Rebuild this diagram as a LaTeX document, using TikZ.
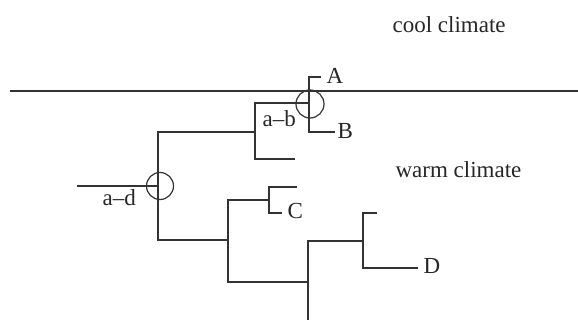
\documentclass[tikz,border=0pt]{standalone}
\usepackage{fontspec}
\setmainfont{Liberation Serif}
\begin{document}
\begin{tikzpicture}[x=1pt,y=-1pt,line width=1.2pt,
  lbl/.style={anchor=base west,inner sep=0pt,font=\fontsize{23}{27}\selectfont,text=black!85},
  br/.style={draw=black!80}]
\useasboundingbox (0,0) rectangle (578,320);
% climate boundary
\coordinate (bl) at (10,91);
\coordinate (brr) at (578,91);
\draw[br] (bl) -- (brr);
% tree coordinates
\coordinate (stem) at (77,186);
\coordinate (root) at (158,186);
\coordinate (ab) at (255,132);
\coordinate (abtop) at (309,103);
\coordinate (abbot) at (295,159);
\coordinate (Aend) at (321,77);
\coordinate (Bend) at (335,132);
\coordinate (cd) at (228,240);
\coordinate (cn) at (269,200);
\coordinate (ctop) at (297,187);
\coordinate (cbot) at (282,213);
\coordinate (dn) at (308,282);
\coordinate (dlow) at (308,320);
\coordinate (dd) at (363,241);
\coordinate (dtop) at (377,213);
\coordinate (dbot) at (418,268);
% branches
\draw[br] (stem) -- (root);
\draw[br] (root) |- (ab);
\draw[br] (root) |- (cd);
\draw[br] (ab) |- (abtop);
\draw[br] (ab) |- (abbot);
\draw[br] (abtop) |- (Aend);
\draw[br] (abtop) |- (Bend);
\draw[br] (cd) |- (cn);
\draw[br] (cd) |- (dn);
\draw[br] (cn) |- (ctop);
\draw[br] (cn) |- (cbot);
\draw[br] (dn) -- (dlow);
\draw[br] (dn) |- (dd);
\draw[br] (dd) |- (dtop);
\draw[br] (dd) |- (dbot);
% circles
\node[circle,draw=black!80,minimum size=28pt,inner sep=0pt] (c1) at (310,104) {};
\node[circle,draw=black!80,minimum size=27pt,inner sep=0pt] (c2) at (160,186) {};
% labels
\node[lbl] (lA) at (326,83.3) {A};
\node[lbl] (lB) at (337,139) {B};
\node[lbl] (lC) at (287,218.3) {C};
\node[lbl] (lD) at (423,273.3) {D};
\node[lbl] (lab) at (262,126.7) {a–b};
\node[lbl] (lad) at (102,206) {a–d};
\node[lbl] (cool) at (392,32.3) {cool climate};
\node[lbl] (warm) at (395,177.3) {warm climate};
\end{tikzpicture}
\end{document}
